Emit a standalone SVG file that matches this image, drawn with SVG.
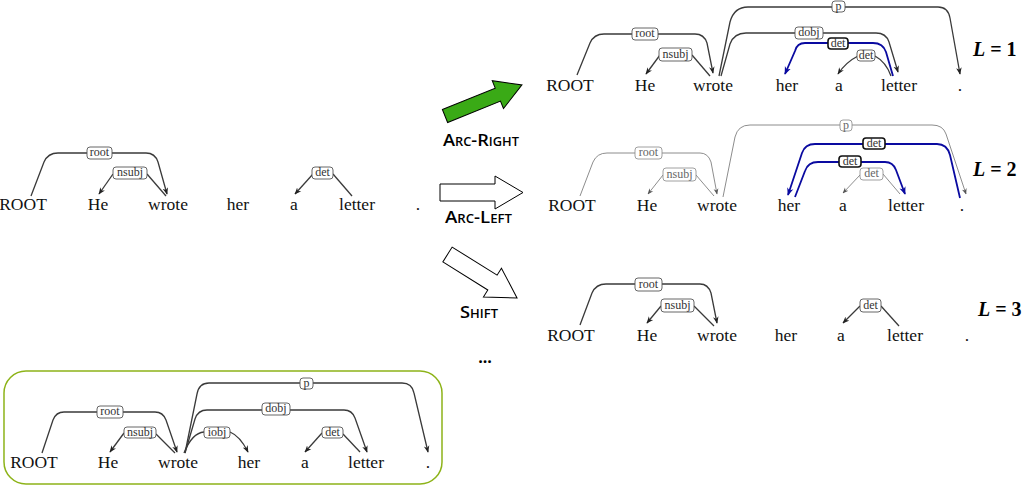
<svg xmlns="http://www.w3.org/2000/svg" width="1024" height="486" viewBox="0 0 1024 486">
<style>
.w{font-family:"Liberation Serif","DejaVu Serif",serif;font-size:17.5px;text-anchor:middle;fill:#111}
.lb rect{fill:#fff;stroke:#555;stroke-width:0.9}
.lb text{font-family:"Liberation Serif","DejaVu Serif",serif;font-size:12px;text-anchor:middle;fill:#333}
.lg rect{fill:#fff;stroke:#888;stroke-width:0.8}
.lg text{font-family:"Liberation Serif","DejaVu Serif",serif;font-size:12px;text-anchor:middle;fill:#666}
.lh rect{fill:#fff;stroke:#111;stroke-width:1.6}
.lh text{font-family:"Liberation Serif","DejaVu Serif",serif;font-size:12px;text-anchor:middle;fill:#333}
.a{fill:none;stroke:#3a3a3a;stroke-width:1.3}
.m{marker-end:url(#ah)}
.g{fill:none;stroke:#808080;stroke-width:0.9}
.mg{marker-end:url(#ahg)}
.b{fill:none;stroke:#0a0aa0;stroke-width:1.8}
.mb{marker-end:url(#ahb)}
.L{font-family:"Liberation Serif","DejaVu Serif",serif;font-size:20px;font-weight:bold;fill:#000}
.op{font-family:"Open Sans","Liberation Sans",sans-serif;font-size:17px;font-weight:600;font-variant:small-caps;fill:#000}
.arrow{stroke:#000;stroke-width:1}
</style>
<defs>
<marker id="ah" viewBox="0 0 10 10" refX="9" refY="5" markerWidth="7" markerHeight="7" markerUnits="userSpaceOnUse" orient="auto"><path d="M0,1 L10,5 L0,9 L3,5 z" fill="#222"/></marker>
<marker id="ahg" viewBox="0 0 10 10" refX="9" refY="5" markerWidth="6" markerHeight="6" markerUnits="userSpaceOnUse" orient="auto"><path d="M0,1 L10,5 L0,9 L3,5 z" fill="#555"/></marker>
<marker id="ahb" viewBox="0 0 10 10" refX="9" refY="5" markerWidth="8" markerHeight="8" markerUnits="userSpaceOnUse" orient="auto"><path d="M0,1 L10,5 L0,9 L3,5 z" fill="#0a0aa0"/></marker>
</defs>

<!-- Tree 0: current state (left) -->
<g id="tree0">
<g id="connectors0">
<path class="a m" d="M31,196 L44,162 Q48,153 58,153 L146,153 Q155,153 158,162 L167,194"/>
<path class="a m" d="M113,174 L99,194"/>
<path class="a" d="M147,174 L166,196"/>
<path class="a m" d="M313,174 L295,194"/>
<path class="a" d="M333,174 L352,196"/>
</g>
<g class="lb"><rect x="87" y="147" width="25" height="12" rx="3"/><text x="99.5" y="156">root</text></g>
<g class="lb"><rect x="113" y="167" width="34" height="12" rx="3"/><text x="130" y="176">nsubj</text></g>
<g class="lb"><rect x="312" y="167" width="21" height="12" rx="3"/><text x="322.5" y="176">det</text></g>
<g id="t0-ROOT"><text class="w" x="23" y="210">ROOT</text></g>
<g id="t0-He"><text class="w" x="98" y="210">He</text></g>
<g id="t0-wrote"><text class="w" x="168" y="210">wrote</text></g>
<g id="t0-her"><text class="w" x="238" y="210">her</text></g>
<g id="t0-a"><text class="w" x="294" y="210">a</text></g>
<g id="t0-letter"><text class="w" x="357" y="210">letter</text></g>
<g id="t0-dot"><text class="w" x="418" y="210">.</text></g>
</g>

<!-- Transition arrows -->
<g id="op-arcright">
<polygon class="arrow" fill="#3aaa16" transform="translate(445,116) rotate(-22)" points="0,-7 57,-7 57,-15 83,0 57,15 57,7 0,7"/>
<text class="op" x="443" y="146" textLength="76" lengthAdjust="spacingAndGlyphs">Arc-Right</text>
</g>
<g id="op-arcleft">
<polygon class="arrow" fill="#fff" points="440,184 495,184 495,176 523,192.5 495,209 495,201 440,201"/>
<text class="op" x="445" y="223" textLength="67" lengthAdjust="spacingAndGlyphs">Arc-Left</text>
</g>
<g id="op-shift">
<polygon class="arrow" fill="#fff" transform="translate(447.5,254.5) rotate(32)" points="0,-8.75 53,-8.75 53,-17 82,0 53,17 53,8.75 0,8.75"/>
<text class="op" x="460" y="318" textLength="38" lengthAdjust="spacingAndGlyphs">Shift</text>
</g>
<g id="ellipsis"><text x="485" y="363" text-anchor="middle" font-family="Open Sans,Liberation Sans,sans-serif" font-size="16" font-weight="bold">...</text></g>

<!-- Tree 1: L = 1 -->
<g id="tree1">
<g id="connectors1">
<path class="a m" d="M577,75 L590,43 Q594,34 604,34 L695,34 Q704,34 707,43 L713,73"/>
<path class="a m" d="M660,55 L646,74"/>
<path class="a" d="M692,55 L710,76"/>
<path class="a m" d="M719,76 L730,22 Q734,7 748,7 L938,7 Q948,7 950,18 L960,74"/>
<path class="a m" d="M721,76 L730,44 Q734,33 746,33 L876,33 Q886,33 889,42 L898,72"/>
<path class="b mb" d="M893,76 L886,52 Q883,43 873,43 L805,43 Q797,43 795,51 L785,74"/>
<path class="a m" d="M858,56 Q846,62 838,74"/>
<path class="a" d="M875,56 Q886,62 891,76"/>
</g>
<g class="lb"><rect x="632" y="28" width="26" height="12" rx="3"/><text x="645" y="37">root</text></g>
<g class="lb"><rect x="659" y="48" width="33" height="13" rx="3"/><text x="675.5" y="58">nsubj</text></g>
<g class="lb"><rect x="832" y="1" width="13" height="11" rx="3"/><text x="838.5" y="10">p</text></g>
<g class="lb"><rect x="795" y="27" width="28" height="12" rx="3"/><text x="809" y="36">dobj</text></g>
<g class="lh"><rect x="828" y="38" width="20" height="11" rx="3"/><text x="838" y="47">det</text></g>
<g class="lb"><rect x="857" y="50" width="18" height="11" rx="3"/><text x="866" y="59">det</text></g>
<g id="t1-ROOT"><text class="w" x="570" y="91">ROOT</text></g>
<g id="t1-He"><text class="w" x="645" y="91">He</text></g>
<g id="t1-wrote"><text class="w" x="713" y="91">wrote</text></g>
<g id="t1-her"><text class="w" x="787" y="91">her</text></g>
<g id="t1-a"><text class="w" x="839" y="91">a</text></g>
<g id="t1-letter"><text class="w" x="899" y="91">letter</text></g>
<g id="t1-dot"><text class="w" x="960" y="91">.</text></g>
<g id="t1-L"><text class="L" x="973" y="56"><tspan font-style="italic">L</tspan> = 1</text></g>
</g>

<!-- Tree 2: L = 2 -->
<g id="tree2">
<g id="connectors2">
<path class="g mg" d="M580,196 L593,162 Q597,153 607,153 L700,153 Q708,153 711,162 L717,194"/>
<path class="g mg" d="M663,175 L648,194"/>
<path class="g" d="M696,175 L714,196"/>
<path class="g mg" d="M723,197 L735,137 Q738,125 750,125 L932,125 Q943,125 946,134 L966,194"/>
<path class="b mb" d="M960,198 L950,155 Q947,144 937,144 L815,144 Q805,144 802,153 L788,195"/>
<path class="b mb" d="M795,197 L805,171 Q808,162 818,162 L885,162 Q893,162 896,170 L905,194"/>
<path class="g mg" d="M860,175 L843,193"/>
<path class="g" d="M883,174 L900,194"/>
</g>
<g class="lg"><rect x="635" y="147" width="27" height="12" rx="3"/><text x="648.5" y="156">root</text></g>
<g class="lg"><rect x="663" y="168" width="33" height="13" rx="3"/><text x="679.5" y="178">nsubj</text></g>
<g class="lg"><rect x="840" y="120" width="12" height="11" rx="3"/><text x="846" y="129">p</text></g>
<g class="lh"><rect x="863" y="138" width="22" height="11" rx="3"/><text x="874" y="147">det</text></g>
<g class="lh"><rect x="839" y="156" width="22" height="11" rx="3"/><text x="850" y="165">det</text></g>
<g class="lg"><rect x="860" y="168" width="23" height="12" rx="3"/><text x="871.5" y="177">det</text></g>
<g id="t2-ROOT"><text class="w" x="572" y="211">ROOT</text></g>
<g id="t2-He"><text class="w" x="647" y="211">He</text></g>
<g id="t2-wrote"><text class="w" x="717" y="211">wrote</text></g>
<g id="t2-her"><text class="w" x="789" y="211">her</text></g>
<g id="t2-a"><text class="w" x="843" y="211">a</text></g>
<g id="t2-letter"><text class="w" x="906" y="211">letter</text></g>
<g id="t2-dot"><text class="w" x="962" y="211">.</text></g>
<g id="t2-L"><text class="L" x="973" y="176"><tspan font-style="italic">L</tspan> = 2</text></g>
</g>

<!-- Tree 3: L = 3 -->
<g id="tree3">
<g id="connectors3">
<path class="a m" d="M580,325 L592,293 Q596,284 606,284 L700,284 Q708,284 711,293 L717,323"/>
<path class="a m" d="M661,306 L647,323"/>
<path class="a" d="M694,306 L714,326"/>
<path class="a m" d="M860,306 L843,323"/>
<path class="a" d="M881,306 L899,326"/>
</g>
<g class="lb"><rect x="635" y="278" width="27" height="13" rx="3"/><text x="648.5" y="288">root</text></g>
<g class="lb"><rect x="661" y="299" width="33" height="13" rx="3"/><text x="677.5" y="309">nsubj</text></g>
<g class="lb"><rect x="860" y="299" width="21" height="13" rx="3"/><text x="870.5" y="309">det</text></g>
<g id="t3-ROOT"><text class="w" x="571" y="341">ROOT</text></g>
<g id="t3-He"><text class="w" x="647" y="341">He</text></g>
<g id="t3-wrote"><text class="w" x="717" y="341">wrote</text></g>
<g id="t3-her"><text class="w" x="786" y="341">her</text></g>
<g id="t3-a"><text class="w" x="841" y="341">a</text></g>
<g id="t3-letter"><text class="w" x="905" y="341">letter</text></g>
<g id="t3-dot"><text class="w" x="967" y="341">.</text></g>
<g id="t3-L"><text class="L" x="978" y="316"><tspan font-style="italic">L</tspan> = 3</text></g>
</g>

<!-- Tree 4: gold tree (bottom left) -->
<g id="tree4">
<rect x="4" y="371" width="438" height="113" rx="22" fill="none" stroke="#8db319" stroke-width="1.5"/>
<g id="connectors4">
<path class="a m" d="M42,453 L53,420 Q56,412 64,412 L155,412 Q163,412 166,420 L177,452"/>
<path class="a m" d="M124,433 L110,452"/>
<path class="a" d="M156,434 L175,453"/>
<path class="a" d="M184,453 Q192,433 204,432"/>
<path class="a m" d="M230,432 Q240,436 248,452"/>
<path class="a m" d="M185,453 L195,419 Q198,410 207,410 L344,410 Q352,410 355,418 L367,452"/>
<path class="a m" d="M185,453 L197,394 Q199,383 209,383 L402,383 Q412,383 414,393 L428,452"/>
<path class="a m" d="M322,433 L305,452"/>
<path class="a" d="M343,434 L360,452"/>
</g>
<g class="lb"><rect x="97" y="406" width="26" height="12" rx="3"/><text x="110" y="415">root</text></g>
<g class="lb"><rect x="124" y="427" width="32" height="11" rx="3"/><text x="140" y="436">nsubj</text></g>
<g class="lb"><rect x="204" y="427" width="26" height="11" rx="3"/><text x="217" y="436">iobj</text></g>
<g class="lb"><rect x="262" y="403" width="28" height="12" rx="3"/><text x="276" y="412">dobj</text></g>
<g class="lb"><rect x="300" y="378" width="13" height="11" rx="3"/><text x="306.5" y="387">p</text></g>
<g class="lb"><rect x="322" y="427" width="21" height="11" rx="3"/><text x="332.5" y="436">det</text></g>
<g id="t4-ROOT"><text class="w" x="34" y="468">ROOT</text></g>
<g id="t4-He"><text class="w" x="108" y="468">He</text></g>
<g id="t4-wrote"><text class="w" x="178" y="468">wrote</text></g>
<g id="t4-her"><text class="w" x="249" y="468">her</text></g>
<g id="t4-a"><text class="w" x="305" y="468">a</text></g>
<g id="t4-letter"><text class="w" x="366" y="468">letter</text></g>
<g id="t4-dot"><text class="w" x="428" y="468">.</text></g>
</g>
</svg>
